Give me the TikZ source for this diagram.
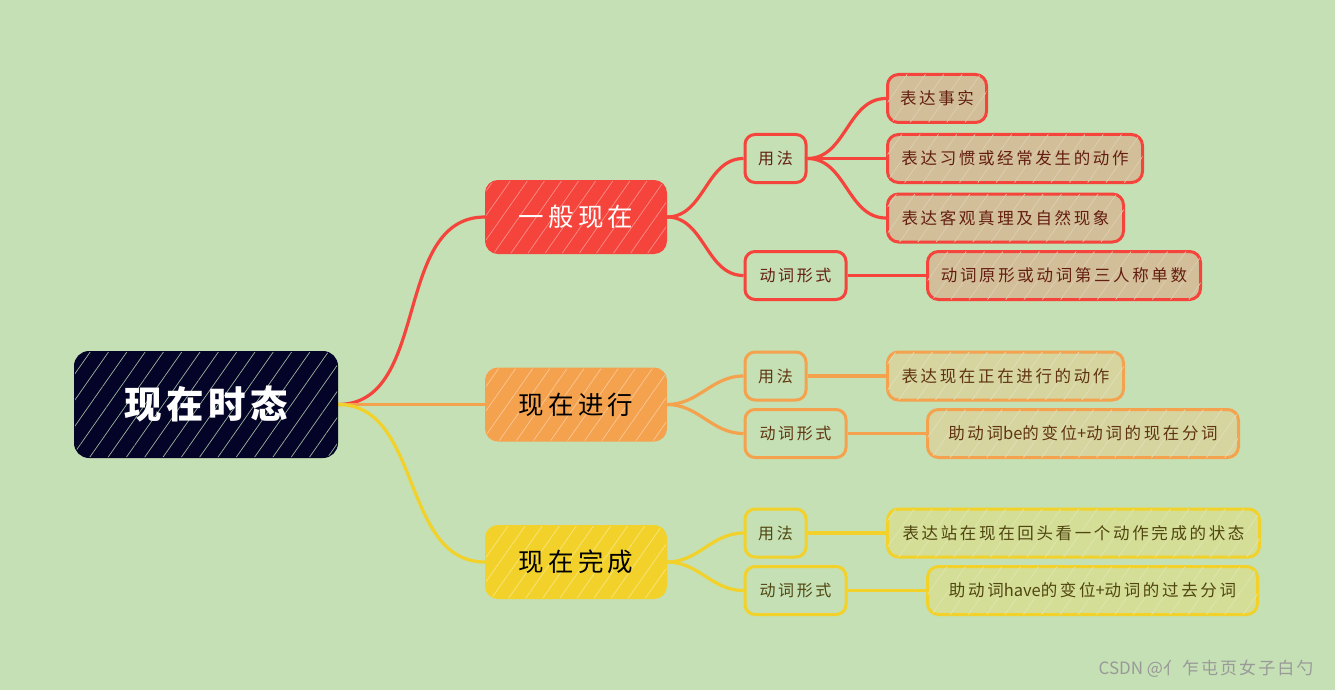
\documentclass[tikz,border=0pt]{standalone}
\usepackage{fontspec}
\setmainfont{Noto Sans CJK SC}
\newfontfamily\cjk[LetterSpace=16]{Noto Sans CJK SC}
\newfontfamily\cjkroot[LetterSpace=12]{Noto Sans CJK SC}
\newfontfamily\latin{Noto Sans CJK SC}
\usetikzlibrary{patterns.meta,backgrounds}
\definecolor{tenseBg}{RGB}{197,224,180}
\definecolor{tenseNavy}{RGB}{4,4,40}
\definecolor{tenseRed}{RGB}{245,68,60}
\definecolor{tenseOrange}{RGB}{245,162,78}
\definecolor{tenseYellow}{RGB}{242,210,42}
\definecolor{leafRed}{RGB}{210,191,153}
\definecolor{leafOrange}{RGB}{214,213,160}
\definecolor{leafYellow}{RGB}{212,222,150}
\definecolor{inkRed}{RGB}{100,30,16}
\definecolor{inkOrange}{RGB}{96,52,16}
\definecolor{inkYellow}{RGB}{80,70,16}
\begin{document}
\begin{tikzpicture}[x=1pt,y=-1pt,
    tenseHatch/.style 2 args={postaction={pattern={Lines[angle=55,distance=#2,line width=0.7pt]},pattern color=#1}},
    tenseRoot/.style={draw=tenseNavy,fill=tenseNavy,line width=2pt,rounded corners=14pt,
        minimum width=262pt,minimum height=105pt,text=white,
        font=\cjkroot\bfseries\fontsize{37.5}{42}\selectfont,tenseHatch={tenseBg!80!tenseNavy}{15pt}},
    tenseMain/.style={draw=#1,fill=#1,line width=2pt,rounded corners=12pt,
        minimum width=180pt,minimum height=72pt,font=\cjk\fontsize{25.5}{30}\selectfont,
        tenseHatch={#1!60!white}{14pt}},
    tenseSub/.style={draw=#1,fill=tenseBg,line width=3pt,rounded corners=10pt,
        minimum height=48pt,font=\cjk\fontsize{16}{19}\selectfont},
    tenseLeaf/.style 2 args={draw=#1,fill=#2,line width=3pt,rounded corners=11pt,anchor=west,
        minimum height=48pt,font=\cjk\fontsize{16.5}{19}\selectfont,tenseHatch={#2!75!white}{15pt}},
    tenseLink/.style={line width=3.2pt,draw=#1,out=0,in=180},
]
% Root and tenses
\node[tenseRoot] (root) at (206,404.5) {现在时态};
\node[tenseMain=tenseRed,text=white] (simple) at (576,217) {一般现在};
\node[tenseMain=tenseOrange,text=black] (progressive) at (576,404.5) {现在进行};
\node[tenseMain=tenseYellow,text=black] (perfect) at (576,562) {现在完成};
% Usage and form
\node[tenseSub=tenseRed,text=inkRed,minimum width=61pt] (simpleUse) at (775.5,158.5) {用法};
\node[tenseSub=tenseRed,text=inkRed,minimum width=101pt] (simpleForm) at (795.5,275.5) {动词形式};
\node[tenseSub=tenseOrange,text=inkOrange,minimum width=61pt] (progUse) at (775.5,376) {用法};
\node[tenseSub=tenseOrange,text=inkOrange,minimum width=101pt] (progForm) at (795.5,433.5) {动词形式};
\node[tenseSub=tenseYellow,text=inkYellow,minimum width=61pt] (perfUse) at (775.5,533) {用法};
\node[tenseSub=tenseYellow,text=inkYellow,minimum width=101pt] (perfForm) at (795.5,590.5) {动词形式};
% Details
\node[tenseLeaf={tenseRed}{leafRed},text=inkRed,minimum width=99pt] (simpleFact) at (886,98.5) {表达事实};
\node[tenseLeaf={tenseRed}{leafRed},text=inkRed,minimum width=255pt] (simpleHabit) at (886,158.5) {表达习惯或经常发生的动作};
\node[tenseLeaf={tenseRed}{leafRed},text=inkRed,minimum width=236pt] (simpleTruth) at (886,218) {表达客观真理及自然现象};
\node[tenseLeaf={tenseRed}{leafRed},text=inkRed,minimum width=273pt] (simpleVerb) at (926,275.5) {动词原形或动词第三人称单数};
\node[tenseLeaf={tenseOrange}{leafOrange},text=inkOrange,minimum width=236pt] (progAction) at (886,376) {表达现在正在进行的动作};
\node[tenseLeaf={tenseOrange}{leafOrange},text=inkOrange,minimum width=311pt] (progVerb) at (926,433.5) {助动词{\latin be}的变位{\latin +}动词的现在分词};
\node[tenseLeaf={tenseYellow}{leafYellow},text=inkYellow,minimum width=372pt] (perfState) at (886,533) {表达站在现在回头看一个动作完成的状态};
\node[tenseLeaf={tenseYellow}{leafYellow},text=inkYellow,minimum width=330pt] (perfVerb) at (926,590.5) {助动词{\latin have}的变位{\latin +}动词的过去分词};
% Watermark
\node[font=\fontsize{17}{20}\selectfont,text=black!40] (mark) at (1206,669) {CSDN @{\cjkroot 亻乍屯页女子白勺}};
\begin{scope}[on background layer]
\fill[tenseBg] (0,0) rectangle (1335,690);
% Links
\draw[tenseLink=tenseRed] (root.east) to (simple.west);
\draw[tenseLink=tenseOrange] (root.east) to (progressive.west);
\draw[tenseLink=tenseYellow] (root.east) to (perfect.west);
\draw[tenseLink=tenseRed] (simple.east) to (simpleUse.west);
\draw[tenseLink=tenseRed] (simple.east) to (simpleForm.west);
\draw[tenseLink=tenseOrange] (progressive.east) to (progUse.west);
\draw[tenseLink=tenseOrange] (progressive.east) to (progForm.west);
\draw[tenseLink=tenseYellow] (perfect.east) to (perfUse.west);
\draw[tenseLink=tenseYellow] (perfect.east) to (perfForm.west);
\draw[tenseLink=tenseRed] (simpleUse.east) to (simpleFact.west);
\draw[tenseLink=tenseRed] (simpleUse.east) to (simpleHabit.west);
\draw[tenseLink=tenseRed] (simpleUse.east) to (simpleTruth.west);
\draw[tenseLink=tenseRed] (simpleForm.east) to (simpleVerb.west);
\draw[tenseLink=tenseOrange] (progUse.east) to (progAction.west);
\draw[tenseLink=tenseOrange] (progForm.east) to (progVerb.west);
\draw[tenseLink=tenseYellow] (perfUse.east) to (perfState.west);
\draw[tenseLink=tenseYellow] (perfForm.east) to (perfVerb.west);
\end{scope}
\useasboundingbox (0,0) rectangle (1335,690);
\end{tikzpicture}
\end{document}
